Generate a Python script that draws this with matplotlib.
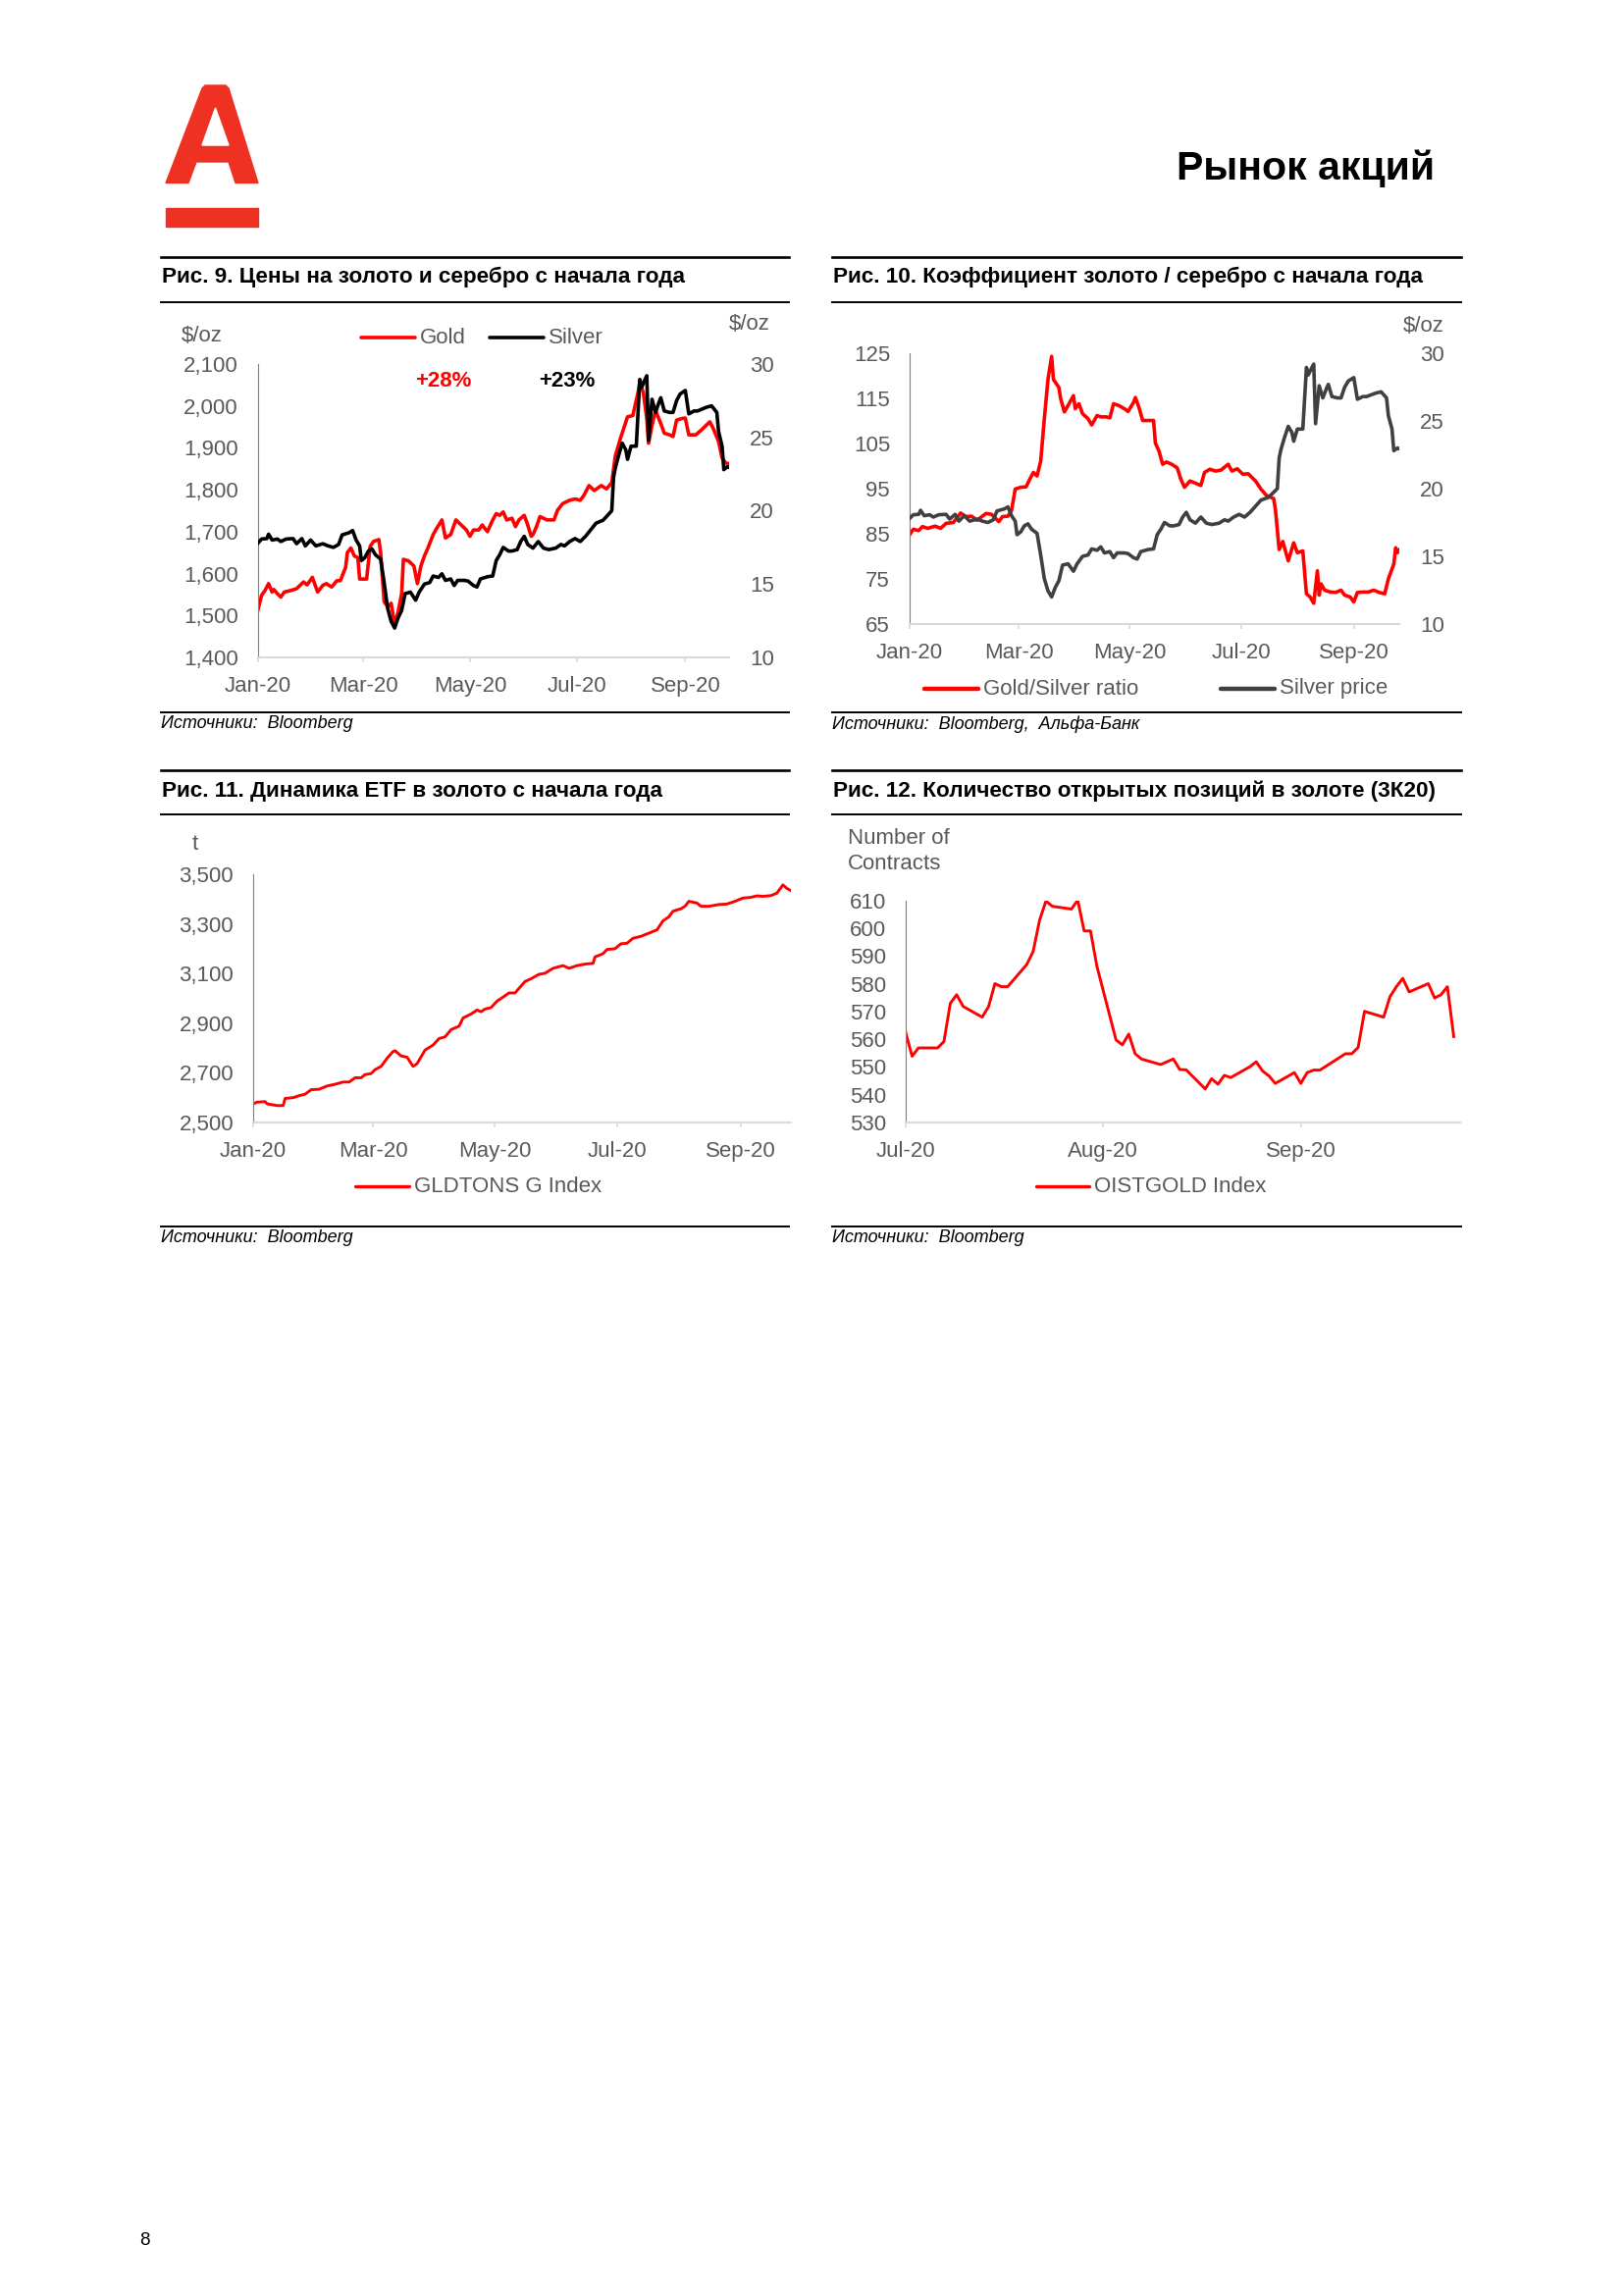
import numpy as np
import matplotlib
matplotlib.use("Agg")
import matplotlib.pyplot as plt
from matplotlib.lines import Line2D
from matplotlib.patches import Polygon
from matplotlib.ticker import FuncFormatter
import matplotlib.dates as mdates

plt.rcParams['font.family'] = ['Liberation Sans', 'DejaVu Sans']

# ---- data ----
# Рис. 9: days since 2020-01-01
gold_day = [0, 2, 4, 6, 8, 9, 11, 13, 15, 19, 22, 26, 28, 31, 34, 37, 39, 42, 45, 47,
            50, 51, 53, 55, 57, 58, 60, 62, 64, 66, 69, 70, 72, 74, 76, 78, 80, 82, 83, 86,
            89, 91, 93, 95, 97, 100, 102, 105, 107, 110, 113, 116, 119, 121, 123, 126, 128, 131, 134, 136,
            138, 140, 142, 145, 147, 149, 152, 154, 156, 157, 159, 161, 165, 169, 171, 174, 178, 181, 184, 186,
            189, 192, 196, 199, 202, 204, 207, 211, 214, 217, 218, 220, 222, 223, 225, 227, 230, 232, 235, 237,
            239, 242, 244, 246, 250, 253, 256, 258, 260, 263, 265, 267, 269]
gold = [1515, 1548, 1560, 1576, 1556, 1562, 1552, 1544, 1556, 1560, 1564, 1580, 1573, 1591, 1556, 1572, 1576, 1568, 1583, 1583,
        1615, 1650, 1661, 1642, 1638, 1587, 1587, 1587, 1665, 1677, 1681, 1650, 1533, 1521, 1529, 1478, 1509, 1552, 1634, 1630,
        1618, 1576, 1618, 1642, 1661, 1693, 1708, 1728, 1685, 1693, 1728, 1716, 1704, 1689, 1704, 1704, 1716, 1700, 1728, 1743,
        1739, 1747, 1728, 1732, 1712, 1728, 1739, 1716, 1689, 1693, 1712, 1736, 1728, 1728, 1751, 1767, 1775, 1778, 1775, 1786,
        1810, 1798, 1810, 1802, 1817, 1880, 1923, 1974, 1977, 2032, 2055, 2032, 1970, 1911, 1954, 1989, 1958, 1935, 1931, 1927,
        1966, 1970, 1971, 1931, 1931, 1942, 1954, 1962, 1946, 1915, 1876, 1864, 1862]

silver_day = [0, 2, 5, 6, 8, 11, 13, 16, 20, 22, 25, 27, 30, 33, 37, 40, 43, 46, 48, 52,
              54, 56, 58, 59, 61, 63, 65, 67, 70, 72, 74, 76, 78, 80, 82, 84, 87, 90, 92, 95,
              98, 100, 103, 105, 107, 110, 112, 114, 118, 120, 123, 125, 127, 131, 134, 136, 138, 140, 143, 145,
              148, 150, 152, 154, 157, 160, 163, 166, 170, 173, 175, 178, 181, 184, 187, 190, 193, 197, 199, 202,
              203, 204, 206, 208, 210, 211, 213, 216, 218, 219, 221, 222, 223, 225, 227, 229, 230, 232, 235, 237,
              239, 241, 244, 246, 249, 251, 253, 256, 259, 262, 263, 265, 266, 268, 269]
silver = [17.8, 18.07, 18.1, 18.4, 18.0, 18.07, 17.9, 18.07, 18.1, 17.75, 18.1, 17.6, 18.0, 17.6, 17.75, 17.6, 17.5, 17.7, 18.35, 18.5,
          18.65, 18.0, 17.6, 16.6, 16.8, 17.25, 17.4, 17.0, 16.7, 15.1, 13.35, 12.45, 12.0, 12.7, 13.2, 14.35, 14.45, 13.9, 14.45, 15.0,
          15.1, 15.55, 15.45, 15.7, 15.25, 15.35, 14.9, 15.25, 15.25, 15.2, 14.9, 14.8, 15.35, 15.5, 15.55, 16.6, 17.0, 17.5, 17.25, 17.25,
          17.35, 17.9, 18.25, 17.7, 17.45, 17.9, 17.45, 17.35, 17.45, 17.7, 17.6, 17.9, 18.1, 17.9, 18.25, 18.7, 19.15, 19.35, 19.6, 20.0,
          22.25, 22.9, 23.8, 24.6, 24.15, 23.5, 24.4, 24.4, 28.95, 28.4, 28.95, 29.2, 24.8, 27.6, 26.7, 27.4, 27.7, 26.8, 26.7, 26.7,
          27.5, 27.95, 28.2, 26.6, 26.8, 26.8, 26.9, 27.05, 27.15, 26.7, 25.4, 24.4, 22.8, 23.0, 22.95]

# Рис. 10: gold/silver ratio, days since 2020-01-01
ratio_day = [0, 2, 5, 7, 10, 14, 17, 20, 24, 28, 31, 34, 37, 42, 45, 49, 51, 54, 56, 58,
             61, 64, 66, 68, 70, 72, 74, 76, 78, 79, 82, 83, 85, 87, 90, 91, 93, 95, 98, 100,
             103, 105, 108, 110, 112, 115, 118, 120, 123, 124, 126, 128, 132, 134, 135, 137, 139, 141, 144, 147,
             149, 151, 154, 157, 160, 162, 165, 168, 171, 175, 177, 180, 183, 186, 190, 193, 196, 200, 201, 203,
             205, 208, 211, 213, 216, 218, 220, 222, 224, 225, 226, 228, 231, 234, 237, 239, 242, 244, 246, 249,
             252, 255, 258, 261, 263, 266, 267, 268, 269]
ratio = [84.8, 86.0, 85.7, 86.6, 86.2, 86.7, 86.2, 87.3, 87.5, 89.6, 88.8, 88.9, 88.0, 89.5, 89.3, 87.7, 88.8, 88.9, 90.2, 94.9,
         95.3, 95.4, 97.1, 98.6, 97.8, 101.1, 110.5, 119.2, 124.3, 119.2, 117.4, 114.9, 112.0, 113.4, 115.6, 112.7, 113.8, 111.6, 110.5, 109.1,
         111.2, 110.9, 110.9, 110.7, 113.8, 113.4, 112.7, 112.1, 114.1, 115.2, 113.0, 110.1, 110.1, 110.1, 105.1, 103.3, 100.4, 100.9, 100.4, 99.6,
         97.1, 95.3, 96.7, 96.2, 95.7, 98.6, 99.3, 98.9, 99.1, 100.4, 98.9, 99.4, 98.2, 98.3, 96.7, 94.9, 93.5, 92.8, 90.2, 81.5,
         83.3, 79.0, 83.0, 80.8, 81.2, 71.7, 71.0, 69.6, 76.8, 71.4, 73.9, 72.5, 72.1, 72.0, 72.5, 71.4, 71.0, 69.9, 72.0, 72.1,
         72.1, 72.5, 72.0, 71.7, 75.0, 78.3, 81.9, 80.8, 81.4]

# Рис. 11: GLDTONS, days since 2020-01-01
etf_day = [0, 2, 6, 7, 10, 12, 15, 16, 20, 23, 26, 29, 33, 37, 41, 45, 48, 51, 54, 56,
           59, 61, 64, 67, 70, 71, 74, 77, 80, 82, 86, 90, 93, 96, 99, 103, 105, 109, 112, 114,
           116, 119, 122, 125, 128, 131, 136, 139, 143, 146, 150, 155, 158, 162, 166, 170, 171, 175, 177, 181,
           184, 187, 190, 194, 199, 202, 205, 208, 210, 214, 216, 218, 222, 224, 228, 233, 237, 241, 245, 249,
           252, 255, 259, 262, 265, 267, 269]
etf = [2575, 2582, 2584, 2575, 2571, 2568, 2568, 2597, 2600, 2608, 2614, 2632, 2634, 2647, 2654, 2663, 2663, 2680, 2680, 2693,
       2697, 2713, 2726, 2759, 2786, 2789, 2768, 2763, 2726, 2737, 2792, 2812, 2838, 2845, 2874, 2888, 2921, 2937, 2953, 2946,
       2957, 2963, 2989, 3005, 3022, 3022, 3068, 3079, 3097, 3101, 3121, 3132, 3121, 3132, 3138, 3141, 3167, 3180, 3197, 3200,
       3220, 3222, 3242, 3250, 3266, 3276, 3312, 3329, 3351, 3361, 3371, 3391, 3384, 3371, 3371, 3378, 3380, 3391, 3404, 3407,
       3413, 3411, 3414, 3424, 3457, 3443, 3434]

# Рис. 12: OISTGOLD, days since 2020-07-01
oi_day = [0, 1, 2, 5, 6, 7, 8, 9, 12, 13, 14, 15, 16, 19, 20, 21, 22, 23, 26, 27,
          28, 29, 30, 33, 34, 35, 36, 37, 40, 41, 42, 43, 44, 47, 48, 49, 50, 51, 54, 55,
          56, 57, 58, 61, 62, 63, 64, 65, 69, 70, 71, 72, 75, 76, 77, 78, 79, 82, 83, 84,
          85, 86]
oi = [562.4, 553.9, 556.9, 556.9, 559.2, 573.0, 576.1, 571.9, 568.0, 571.8,
      580.1, 579.0, 579.0, 587.0, 591.7, 602.9, 609.9, 608.0, 607.0, 610.2,
      599.1, 599.1, 586.4, 559.8, 558.0, 561.9, 554.8, 552.9, 550.9, 551.9,
      552.9, 549.1, 549.0, 542.1, 545.8, 543.8, 547.0, 546.2, 550.1, 551.9,
      548.6, 546.8, 544.1, 548.0, 544.1, 548.0, 548.9, 548.9, 554.8, 554.8,
      557.1, 570.1, 568.0, 575.4, 579.0, 582.0, 577.1, 580.1, 574.9, 576.1,
      579.0, 561.0]

# axis ticks
gold_ticks = list(range(1400, 2101, 100))
silver_ticks = [10, 15, 20, 25, 30]
ratio_ticks = list(range(65, 126, 10))
etf_ticks = list(range(2500, 3501, 200))
oi_ticks = list(range(530, 611, 10))

# ---- page setup ----
W, H = 1655, 2340
RED = '#FF0000'
LOGO_RED = '#EF3124'
TXT = '#595959'
FS = 16

fig = plt.figure(figsize=(W / 100, H / 100), dpi=100)
fig.patch.set_facecolor('white')


def fx(x):
    return x / W


def fy(y):
    return 1 - y / H


def add_ax(x0, y0, x1, y1):
    return fig.add_axes([fx(x0), fy(y1), (x1 - x0) / W, (y1 - y0) / H])


def dates(start, days):
    return np.datetime64(start) + np.array(days, dtype='timedelta64[D]')


def rule(x0, x1, y, lw):
    fig.add_artist(Line2D([fx(x0), fx(x1)], [fy(y), fy(y)], color='black', lw=lw,
                          transform=fig.transFigure))


def key(x0, x1, y, color, label, lw=2.6):
    fig.add_artist(Line2D([fx(x0), fx(x1)], [fy(y), fy(y)], color=color, lw=lw,
                          solid_capstyle='round', transform=fig.transFigure))
    fig.text(fx(x1 + 5), fy(y), label, fontsize=FS, color=TXT, ha='left', va='center')


def style(ax):
    ax.patch.set_alpha(0)
    ax.spines['top'].set_visible(False)
    ax.spines['right'].set_visible(False)
    ax.spines['left'].set_color('#7F7F7F')
    ax.spines['left'].set_linewidth(0.8)
    ax.spines['bottom'].set_color('#D9D9D9')
    ax.spines['bottom'].set_linewidth(1.5)
    ax.tick_params(axis='y', length=0, pad=14.4, labelsize=FS, labelcolor=TXT)
    ax.tick_params(axis='x', length=3.5, width=1.2, color='#D9D9D9', pad=10.5,
                   labelsize=FS, labelcolor=TXT)


def style_right(ax):
    for s in ax.spines.values():
        s.set_visible(False)
    ax.tick_params(axis='y', length=0, pad=15, labelsize=FS, labelcolor=TXT)


thousands = FuncFormatter(lambda v, p: f"{v:,.0f}")

# ---- header ----
logo = [(169, 186.5), (206, 90), (209, 87), (230, 87), (233, 90), (263, 186.5), (240, 186.5), (233, 165),
        (200, 165), (192, 186.5)]
fig.add_artist(Polygon([(fx(x), fy(y)) for x, y in logo], closed=True, color=LOGO_RED,
                       transform=fig.transFigure))
hole = [(219.5, 110), (206, 148), (233, 148)]
fig.add_artist(Polygon([(fx(x), fy(y)) for x, y in hole], closed=True, color='white',
                       transform=fig.transFigure))
fig.add_artist(Polygon([(fx(x), fy(y)) for x, y in [(169, 212), (263, 212), (263, 230.5), (169, 230.5)]],
                       closed=True, color=LOGO_RED, transform=fig.transFigure))
fig.text(fx(1462), fy(183), "Рынок акций", fontsize=29.5, fontweight='bold', ha='right',
         va='baseline', color='black')
fig.text(fx(147), fy(2283), "8", fontsize=13.5, ha='center', va='center', color='black')

# ---- section frames ----
for (x0, x1) in [(164, 804), (848, 1489)]:
    rule(x0, x1, 261.5, 1.9)
    rule(x0, x1, 307.5, 1.4)
    rule(x0, x1, 726, 1.4)
    rule(x0, x1, 785, 1.9)
    rule(x0, x1, 830, 1.4)
    rule(x0, x1, 1249.5, 1.4)

titles = [(165, 282, "Рис. 9. Цены на золото и серебро с начала года"),
          (849, 282, "Рис. 10. Коэффициент золото / серебро с начала года"),
          (165, 806.5, "Рис. 11. Динамика ETF в золото с начала года"),
          (849, 806.5, "Рис. 12. Количество открытых позиций в золоте (3К20)")]
for x, y, t in titles:
    fig.text(fx(x), fy(y), t, fontsize=16.2, fontweight='bold', ha='left', va='center')

sources = [(164, 738, "Источники:  Bloomberg"),
           (848, 738, "Источники:  Bloomberg,  Альфа-Банк"),
           (164, 1262, "Источники:  Bloomberg"),
           (848, 1262, "Источники:  Bloomberg")]
for x, y, t in sources:
    fig.text(fx(x), fy(y), t, fontsize=13, style='italic', ha='left', va='center')

two_month = mdates.MonthLocator(bymonth=[1, 3, 5, 7, 9])
fmt = mdates.DateFormatter('%b-%y')

# ---- Рис. 9 ----
ax1 = add_ax(263, 371, 743, 670)
style(ax1)
ax1.plot(dates('2020-01-01', gold_day), gold, color=RED, lw=2.6)
ax1.set_ylim(1400, 2100)
ax1.set_yticks(gold_ticks)
ax1.yaxis.set_major_formatter(thousands)
ax1.set_xlim(np.datetime64('2020-01-01'), np.datetime64('2020-09-26'))
ax1.xaxis.set_major_locator(two_month)
ax1.xaxis.set_major_formatter(fmt)
ax1r = ax1.twinx()
style_right(ax1r)
ax1r.plot(dates('2020-01-01', silver_day), silver, color='black', lw=2.6)
ax1r.set_ylim(10, 30)
ax1r.set_yticks(silver_ticks)
fig.text(fx(185), fy(342), "$/oz", fontsize=FS, color=TXT, ha='left', va='center')
fig.text(fx(743), fy(331), "$/oz", fontsize=FS, color=TXT, ha='left', va='center')
key(368, 423, 344, RED, "Gold")
key(499, 554, 344, 'black', "Silver")
fig.text(fx(451.5), fy(389), "+28%", fontsize=FS, fontweight='bold', color=RED, ha='center', va='center')
fig.text(fx(578), fy(389), "+23%", fontsize=FS, fontweight='bold', color='black', ha='center', va='center')

# ---- Рис. 10 ----
ax2 = add_ax(927, 360, 1426, 636)
style(ax2)
ax2.plot(dates('2020-01-01', ratio_day), ratio, color=RED, lw=2.6)
ax2.set_ylim(65, 125)
ax2.set_yticks(ratio_ticks)
ax2.set_xlim(np.datetime64('2020-01-01'), np.datetime64('2020-09-26'))
ax2.xaxis.set_major_locator(two_month)
ax2.xaxis.set_major_formatter(fmt)
ax2r = ax2.twinx()
style_right(ax2r)
ax2r.plot(dates('2020-01-01', silver_day), silver, color='#404040', lw=2.6)
ax2r.set_ylim(10, 30)
ax2r.set_yticks(silver_ticks)
fig.text(fx(1430), fy(333), "$/oz", fontsize=FS, color=TXT, ha='left', va='center')
key(942, 997, 702, RED, "Gold/Silver ratio", lw=3.2)
key(1244, 1299, 702, '#404040', "Silver price", lw=3.2)

# ---- Рис. 11 ----
ax3 = add_ax(258, 891, 806, 1144)
style(ax3)
ax3.plot(dates('2020-01-01', etf_day), etf, color=RED, lw=2.1)
ax3.set_ylim(2500, 3500)
ax3.set_yticks(etf_ticks)
ax3.yaxis.set_major_formatter(thousands)
ax3.set_xlim(np.datetime64('2020-01-01'), np.datetime64('2020-09-26'))
ax3.xaxis.set_major_locator(two_month)
ax3.xaxis.set_major_formatter(fmt)
fig.text(fx(198.5), fy(860), "t", fontsize=FS, color=TXT, ha='center', va='center')
key(362, 417, 1209, RED, "GLDTONS G Index", lw=2.4)

# ---- Рис. 12 ----
ax4 = add_ax(923, 918, 1488, 1144)
style(ax4)
ax4.plot(dates('2020-07-01', oi_day), oi, color=RED, lw=2.1)
ax4.set_ylim(530, 610)
ax4.set_yticks(oi_ticks)
ax4.set_xlim(np.datetime64('2020-07-01'), np.datetime64('2020-09-26'))
ax4.xaxis.set_major_locator(mdates.MonthLocator())
ax4.xaxis.set_major_formatter(fmt)
fig.text(fx(864), fy(854), "Number of", fontsize=FS, color=TXT, ha='left', va='center')
fig.text(fx(864), fy(880), "Contracts", fontsize=FS, color=TXT, ha='left', va='center')
key(1056, 1110, 1209, RED, "OISTGOLD Index", lw=2.4)

fig.savefig("out.png", dpi=100, facecolor='white')
